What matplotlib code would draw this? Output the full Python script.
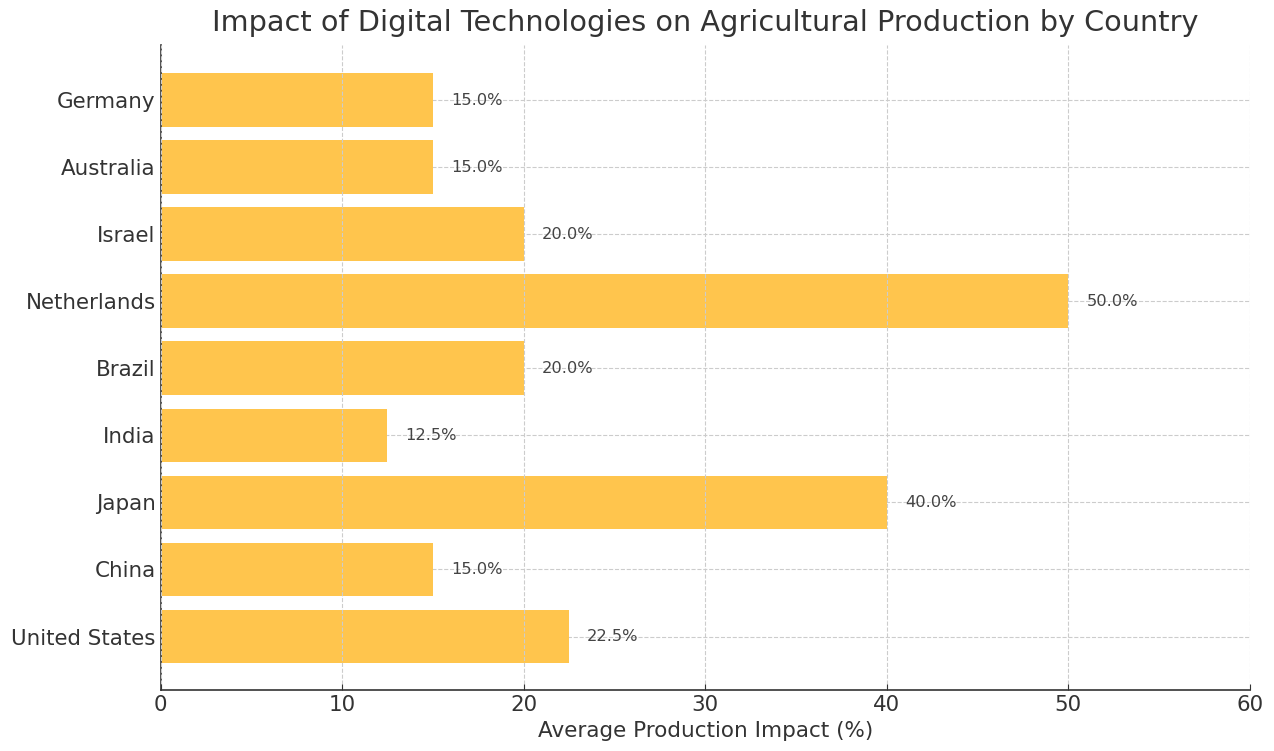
import matplotlib
matplotlib.use("Agg")
import matplotlib.pyplot as plt

countries = ["United States", "China", "Japan", "India", "Brazil",
             "Netherlands", "Israel", "Australia", "Germany"]
impact = [22.5, 15.0, 40.0, 12.5, 20.0, 50.0, 20.0, 15.0, 15.0]

fig, ax = plt.subplots(figsize=(12.74, 7.51), dpi=100)
fig.subplots_adjust(left=0.126, right=0.981, top=0.94, bottom=0.081)

bars = ax.barh(countries, impact, color="#FFC54D", height=0.8)

for b, v in zip(bars, impact):
    ax.text(b.get_width() + 1, b.get_y() + b.get_height() / 2, f"{v:.1f}%",
            va="center", ha="left", fontsize=11.7, color="#444444")

ax.set_xlim(0, 60)
ax.set_ylim(-0.8, 8.82)
ax.grid(True, linestyle="--", color="#cccccc", linewidth=0.8)
ax.xaxis.set_zorder(2.5)
ax.yaxis.set_zorder(0.5)

ax.set_title("Impact of Digital Technologies on Agricultural Production by Country",
             fontsize=20.7, color="#333333", pad=10)
ax.set_xlabel("Average Production Impact (%)", fontsize=15.5, color="#333333")
ax.tick_params(axis="both", labelsize=15.4, colors="#333333", direction="in", length=4)
for s in ["top", "right"]:
    ax.spines[s].set_visible(False)
for s in ["left", "bottom"]:
    ax.spines[s].set_color("#333333")
    ax.spines[s].set_linewidth(1.2)

fig.savefig("out.png")
